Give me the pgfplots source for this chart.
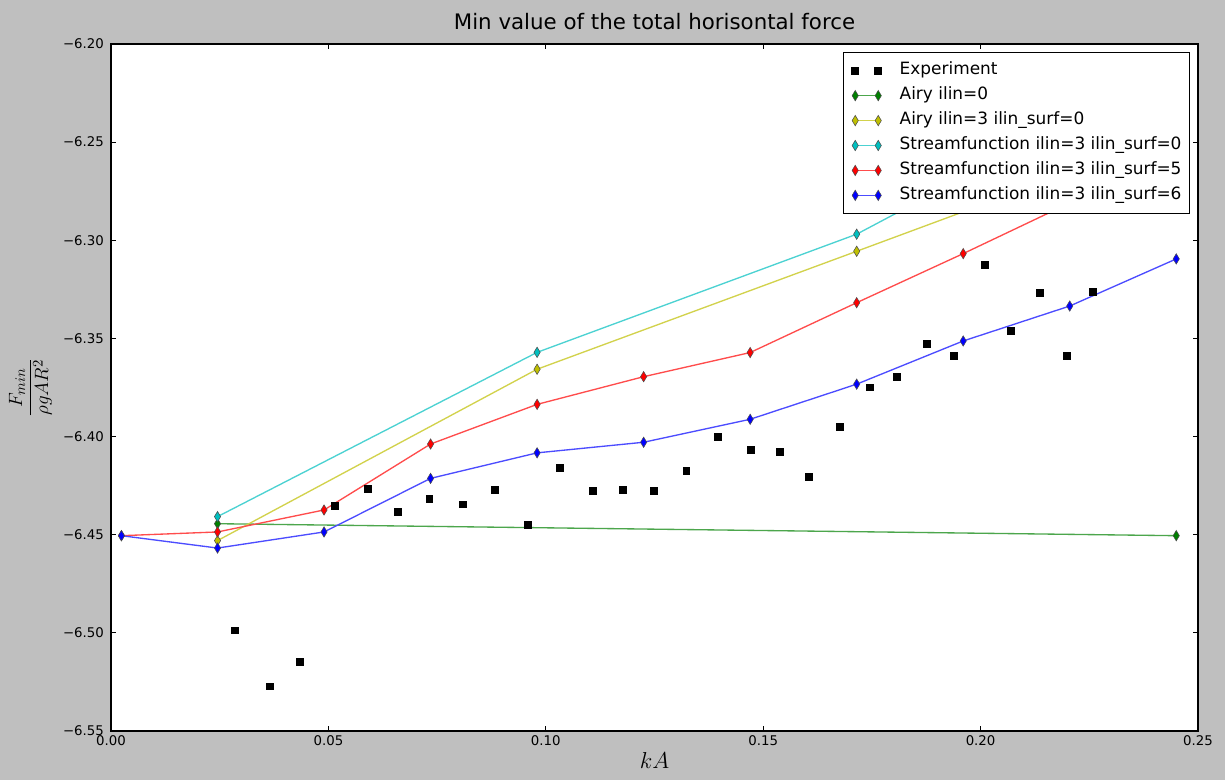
\documentclass[border=0pt]{standalone}
\usepackage{fontspec}
\setmainfont{DejaVu Sans}
\usepackage{pgfplots}
\pgfplotsset{compat=1.18}
\definecolor{bg}{HTML}{BFBFBF}
\definecolor{mplg}{rgb}{0,0.5,0}
\definecolor{mply}{rgb}{0.75,0.75,0}
\definecolor{mplc}{rgb}{0,0.75,0.75}
\definecolor{mplr}{rgb}{1,0,0}
\definecolor{mplb}{rgb}{0,0,1}
\pgfplotsset{
  dline/.style={color=#1!70!white, line width=1pt, mark=diamond*, mark size=3.9pt,
    mark options={fill=#1, draw=black!70, line width=0.4pt, xscale=0.8, solid},
    legend image code/.code={\draw[mark repeat=1] plot coordinates {(0pt,0pt) (17.25pt,0pt)};}},
}
\begin{document}
\begin{tikzpicture}
\fill[bg] (-83.25pt,-36.75pt) rectangle (835.5pt,548.25pt);
\begin{axis}[
  scale only axis, width=815.25pt, height=515.25pt,
  xmin=0, xmax=0.25, ymin=-6.55, ymax=-6.20,
  axis background/.style={fill=white},
  axis line style={black, line width=1pt},
  tick style={black, line width=0.7pt},
  major tick length=3.75pt,
  tick align=inside,
  xtick={0,0.05,0.10,0.15,0.20,0.25},
  xticklabels={0.00,0.05,0.10,0.15,0.20,0.25},
  ytick={-6.55,-6.50,-6.45,-6.40,-6.35,-6.30,-6.25,-6.20},
  yticklabels={−6.55,−6.50,−6.45,−6.40,−6.35,−6.30,−6.25,−6.20},
  ticklabel style={font=\fontsize{10}{12}\selectfont},
  yticklabel style={xshift=-1.8pt},
  title={Min value of the total horisontal force},
  title style={at={(axis description cs:0.5,1)}, anchor=base, yshift=4.9pt, font=\fontsize{16}{19}\selectfont},
  xlabel={$kA$},
  xlabel style={at={(axis description cs:0.5,0)}, anchor=base, yshift=-28.5pt, font=\fontsize{16}{19}\selectfont},
  ylabel={$\displaystyle\frac{F_{min}}{\rho g A R^2}$},
  ylabel style={at={(axis description cs:-0.0741,0.5)}, anchor=center, font=\fontsize{15.5}{18}\selectfont},
  legend cell align=left,
  legend style={at={(axis description cs:1,1)}, anchor=north east, xshift=-6pt, yshift=-6pt,
    draw=black, fill=white, line width=0.8pt, font=\fontsize{12.7}{15}\selectfont,
    inner xsep=6pt, inner ysep=7.3pt, row sep=6pt, column sep=13.5pt,
    nodes={inner ysep=0pt, inner xsep=0pt, text height=9.4pt, text depth=3.3pt}},
]
\addplot[only marks, mark=square*, mark size=2.6pt, color=black,
  legend image code/.code={\draw[only marks] plot coordinates {(0pt,0pt) (17.25pt,0pt)};}]
  coordinates {
  (0.0285,-6.4987) (0.0366,-6.5272) (0.0435,-6.5148) (0.0514,-6.4352)
  (0.0590,-6.4267) (0.0659,-6.4383) (0.0732,-6.4318) (0.0808,-6.4345)
  (0.0882,-6.4271) (0.0959,-6.4447) (0.1033,-6.4159) (0.1107,-6.4276)
  (0.1178,-6.4271) (0.1249,-6.4277) (0.1323,-6.4174) (0.1395,-6.4002)
  (0.1471,-6.4067) (0.1539,-6.4077) (0.1605,-6.4207) (0.1677,-6.3948)
  (0.1746,-6.3749) (0.1807,-6.3695) (0.1877,-6.3528) (0.1938,-6.3588)
  (0.2009,-6.3126) (0.2069,-6.3459) (0.2135,-6.3267) (0.2198,-6.3588)
  (0.2259,-6.3260)};
\addlegendentry{Experiment}
\addplot[dline=mplg] coordinates {(0.0245,-6.4444) (0.245,-6.4505)};
\addlegendentry{Airy ilin=0}
\addplot[dline=mply] coordinates {(0.0245,-6.4530) (0.098,-6.3657) (0.1715,-6.3056) (0.245,-6.2453)};
\addlegendentry{Airy ilin=3 ilin\_surf=0}
\addplot[dline=mplc] coordinates {(0.0245,-6.4408) (0.098,-6.3571) (0.1715,-6.2969) (0.245,-6.2106)};
\addlegendentry{Streamfunction ilin=3 ilin\_surf=0}
\addplot[dline=mplr] coordinates {(0.0024,-6.4505) (0.0245,-6.4486) (0.049,-6.4374) (0.0735,-6.4038)
  (0.098,-6.3836) (0.1225,-6.3695) (0.147,-6.3572) (0.1715,-6.3318) (0.196,-6.3068) (0.2205,-6.2810) (0.245,-6.2550)};
\addlegendentry{Streamfunction ilin=3 ilin\_surf=5}
\addplot[dline=mplb] coordinates {(0.0024,-6.4505) (0.0245,-6.4568) (0.049,-6.4486) (0.0735,-6.4213)
  (0.098,-6.4083) (0.1225,-6.4029) (0.147,-6.3912) (0.1715,-6.3733) (0.196,-6.3513) (0.2205,-6.3335) (0.245,-6.3095)};
\addlegendentry{Streamfunction ilin=3 ilin\_surf=6}
\end{axis}
\end{tikzpicture}
\end{document}
